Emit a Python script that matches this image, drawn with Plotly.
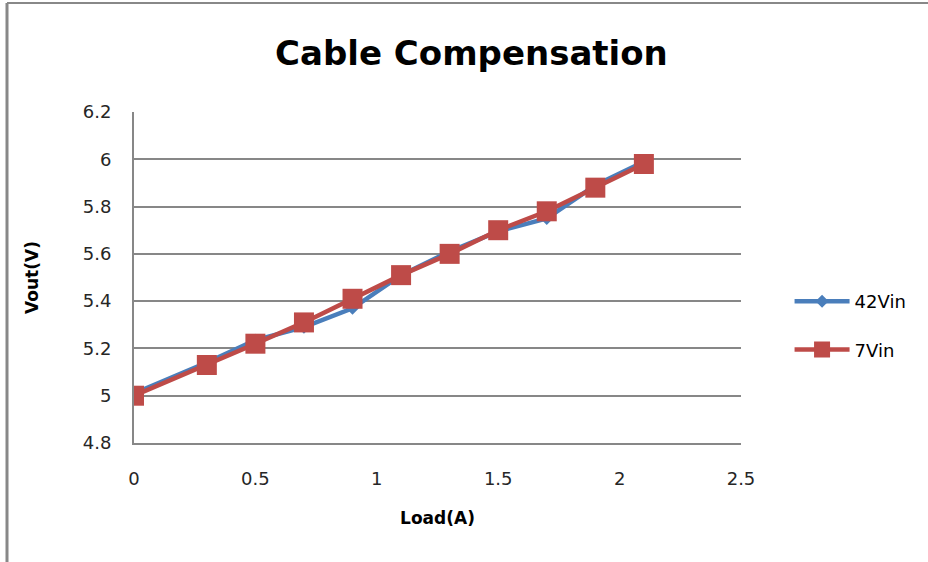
import plotly.graph_objects as go

load_a = [0, 0.3, 0.5, 0.7, 0.9, 1.1, 1.3, 1.5, 1.7, 1.9, 2.1]
vout_42vin = [5.01, 5.14, 5.235, 5.29, 5.37, 5.51, 5.61, 5.695, 5.75, 5.89, 5.99]
vout_7vin = [5.0, 5.13, 5.22, 5.31, 5.41, 5.51, 5.60, 5.70, 5.78, 5.88, 5.98]

fig = go.Figure()
fig.add_trace(go.Scatter(
    x=load_a, y=vout_42vin, name="42Vin", mode="lines+markers", legendgroup="a",
    line=dict(color="#4A7EBB", width=4.5),
    marker=dict(symbol="diamond", size=10, color="#4A7EBB"),
))
fig.add_trace(go.Scatter(
    x=load_a, y=vout_7vin, name="7Vin", mode="lines+markers", legendgroup="b",
    line=dict(color="#BE4B48", width=4.5),
    marker=dict(symbol="square", size=20, color="#BE4B48"),
))

grid = "#878787"
font = "DejaVu Sans, Verdana, sans-serif"
tickfont = dict(family=font, size=18, color="#262626")
fig.update_layout(
    width=928, height=562,
    margin=dict(l=134, r=187, t=112, b=119),
    paper_bgcolor="white", plot_bgcolor="white",
    title=dict(text="<b>Cable Compensation</b>", x=0.508, xanchor="center",
               y=0.905, yanchor="middle",
               font=dict(family=font, size=34, color="black")),
    xaxis=dict(range=[0, 2.5], dtick=0.5, showgrid=False, zeroline=False,
               showline=True, linecolor=grid, linewidth=2,
               ticks="", ticklabelstandoff=18, tickfont=tickfont,
               title=dict(text="<b>Load(A)</b>", standoff=25,
                          font=dict(family=font, size=17, color="black"))),
    yaxis=dict(range=[4.8, 6.2], dtick=0.2, showgrid=True, gridcolor=grid, gridwidth=2,
               zeroline=False, showline=True, linecolor=grid, linewidth=2,
               ticks="", ticklabelstandoff=17, tickfont=tickfont,
               title=dict(text="<b>Vout(V)</b>", standoff=40,
                          font=dict(family=font, size=17, color="black"))),
    legend=dict(x=1.08, y=0.355, xanchor="left", yanchor="middle",
                font=dict(family=font, size=18, color="black"),
                itemwidth=55, tracegroupgap=22, bgcolor="rgba(0,0,0,0)"),
    showlegend=True,
)
# chart frame (outer border)
fig.add_shape(type="line", xref="paper", yref="paper",
              x0=(7 - 134) / 607, x1=(928 - 134) / 607,
              y0=(443 - 3) / 331, y1=(443 - 3) / 331,
              line=dict(color="#888888", width=2))
fig.add_shape(type="line", xref="paper", yref="paper",
              x0=(7 - 134) / 607, x1=(7 - 134) / 607,
              y0=(443 - 3) / 331, y1=(443 - 562) / 331,
              line=dict(color="#888888", width=3))
fig.write_html("out.html", config={"displayModeBar": False},
               post_script="document.body.style.margin='0';")
